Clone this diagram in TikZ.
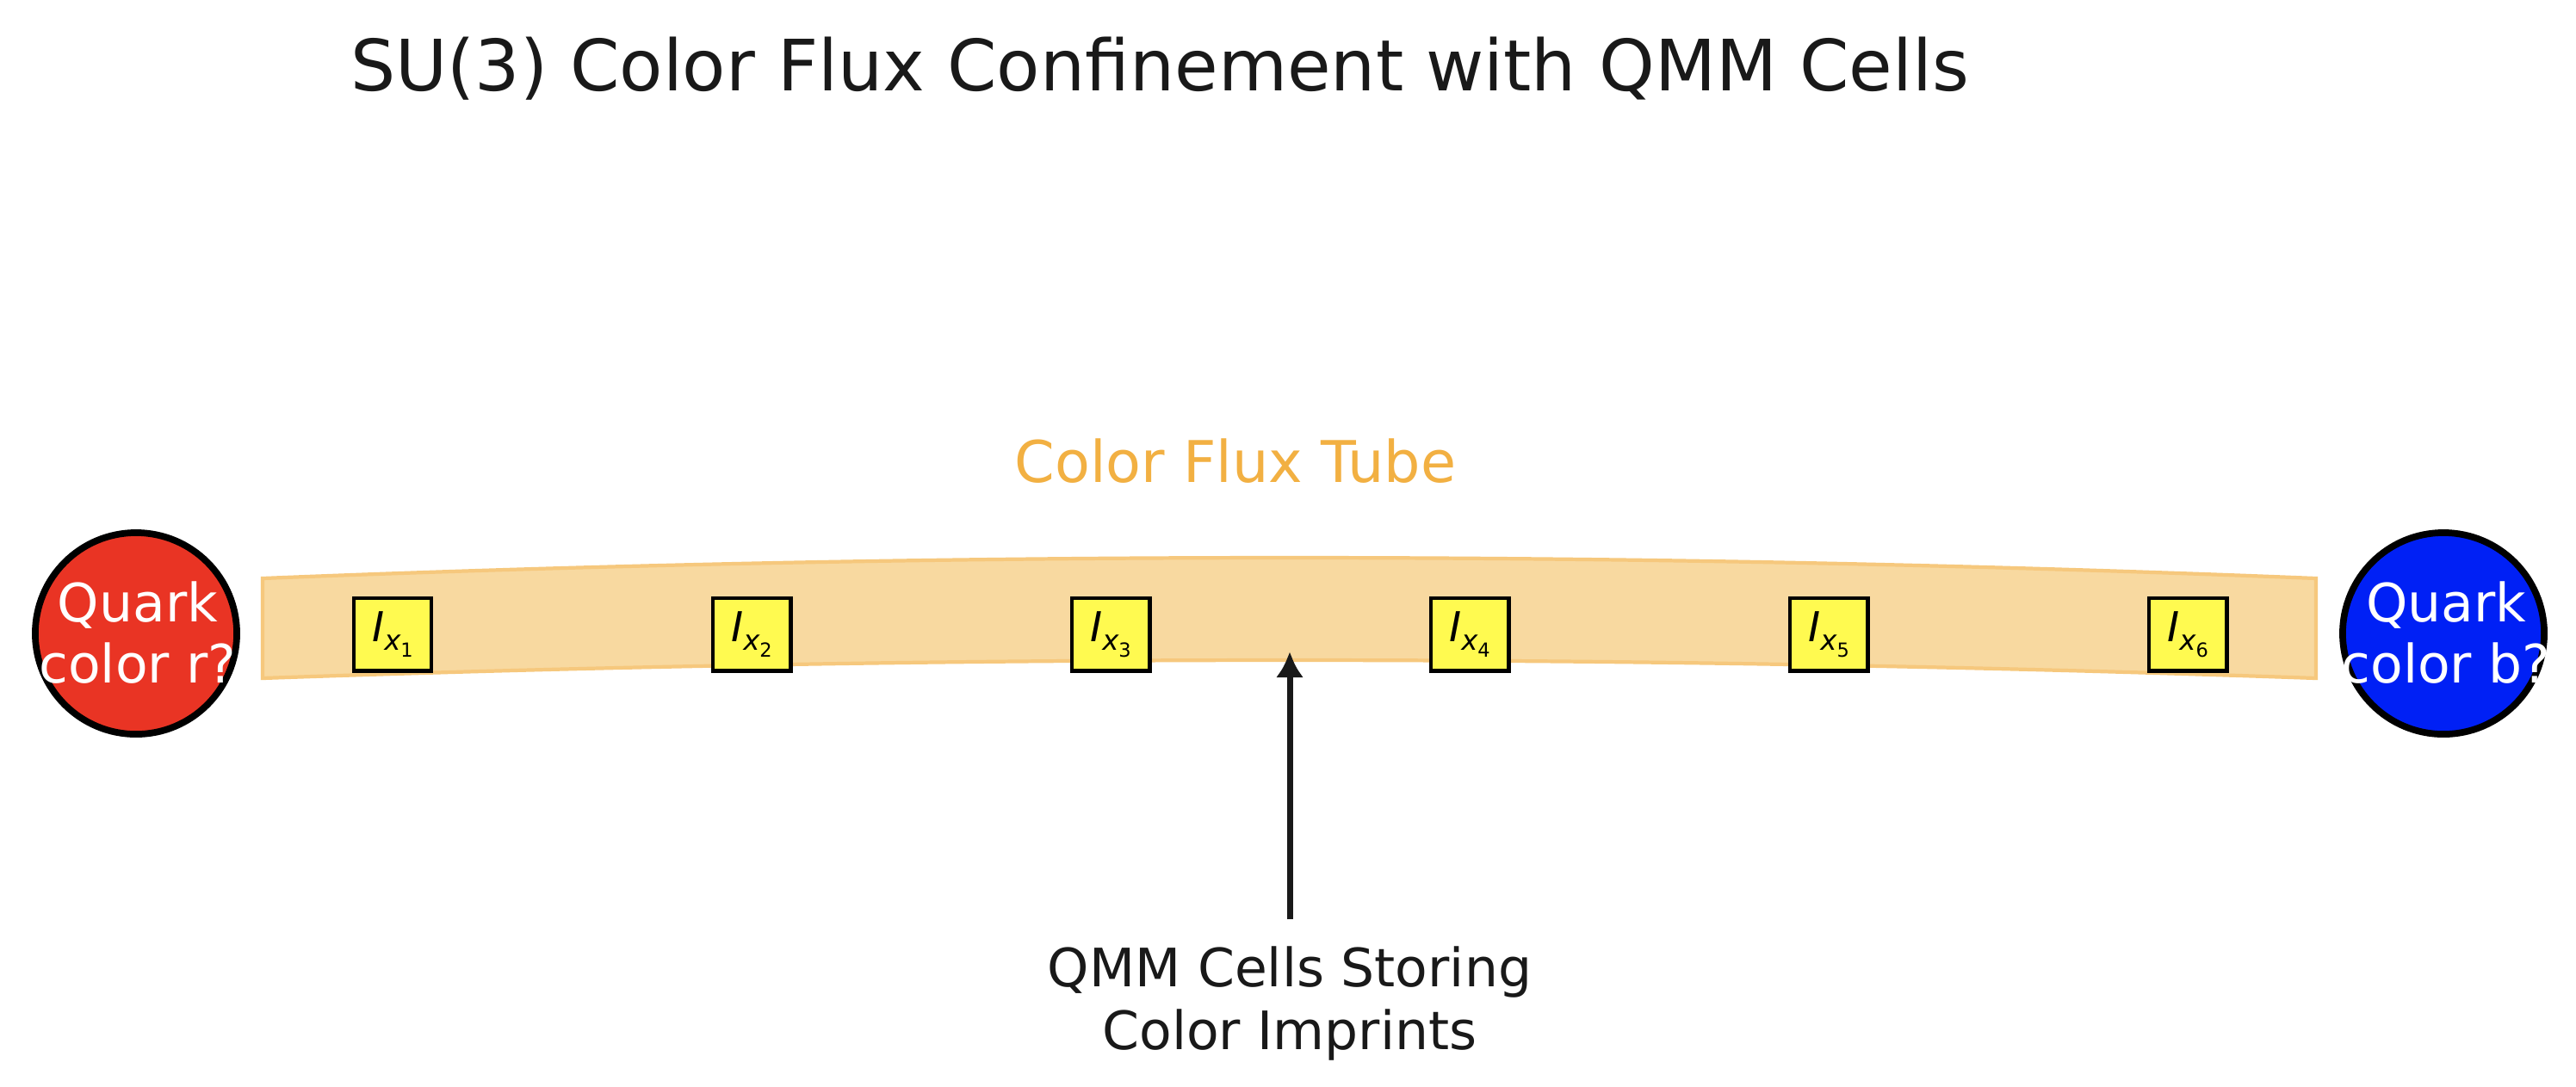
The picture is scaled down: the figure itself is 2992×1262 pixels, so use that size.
\documentclass[tikz,border=0pt]{standalone}
\usepackage{fontspec}
\setmainfont{DejaVu Sans}
\usetikzlibrary{arrows.meta}
\definecolor{quarkred}{RGB}{233,52,36}
\definecolor{quarkblue}{RGB}{0,32,245}
\definecolor{tubefill}{RGB}{248,217,160}
\definecolor{tubeedge}{RGB}{246,200,125}
\definecolor{tubetext}{RGB}{242,176,66}
\definecolor{cellyellow}{RGB}{255,250,80}
\definecolor{inkgray}{RGB}{25,25,25}
\newcommand{\cellname}[1]{{\fontsize{13.6}{13.6}\selectfont\itshape I}\raisebox{-2.8pt}{\fontsize{9.2}{9.2}\selectfont\itshape x\raisebox{-2.3pt}{\fontsize{6.4}{6.4}\selectfont\upshape #1}}}
\begin{document}
\begin{tikzpicture}[x=0.01cm, y=-0.01cm,
  quark/.style={circle, draw=black, line width=2.2pt, minimum size=2.34cm, inner sep=0pt},
  quarktext/.style={text=white, align=center, inner sep=0pt, font=\fontsize{17.5}{20.2}\selectfont},
  cellbox/.style={draw=black, fill=cellyellow, line width=1.4pt, minimum width=0.90cm, minimum height=0.84cm, inner sep=0pt},
  plain/.style={text=inkgray, align=center, inner sep=0pt}]
\useasboundingbox (0,0) rectangle (2992,1262);
\fill[white] (0,0) rectangle (2992,1262);
% title
\node[plain, font=\fontsize{23.4}{28}\selectfont] (title) at (1347,80) {SU(3) Color Flux Confinement with QMM Cells};
% flux tube
\path[fill=tubefill, draw=tubeedge, line width=1.2pt] (305,672) .. controls (1100,640) and (1895,640) .. (2690,672) -- (2690,788) .. controls (1895,760) and (1100,760) .. (305,788) -- cycle;
\node[text=tubetext, inner sep=0pt, font=\fontsize{19}{22}\selectfont] (tubelabel) at (1435,536) {Color Flux Tube};
% quarks
\node[quark, fill=quarkred] (qr) at (158,736) {};
\node[quarktext] (qrt) at (160,735) {Quark\\color r?};
\node[quark, fill=quarkblue] (qb) at (2838,736) {};
\node[quarktext] (qbt) at (2841,735) {Quark\\color b?};
% cells
\foreach \i/\xx in {1/456,2/873,3/1290,4/1707,5/2124,6/2541}{
  \node[cellbox] (c\i) at (\xx,737) {\cellname{\i}};
}
% arrow and label
\coordinate (tip) at (1498,757);
\coordinate (tail) at (1498,1068);
\draw[inkgray, line width=2pt, -{Latex[length=0.3cm,width=0.32cm]}] (tail) -- (tip);
\node[plain, font=\fontsize{17.5}{21}\selectfont] (lbl) at (1498,1166) {QMM Cells Storing\\Color Imprints};
\end{tikzpicture}
\end{document}
